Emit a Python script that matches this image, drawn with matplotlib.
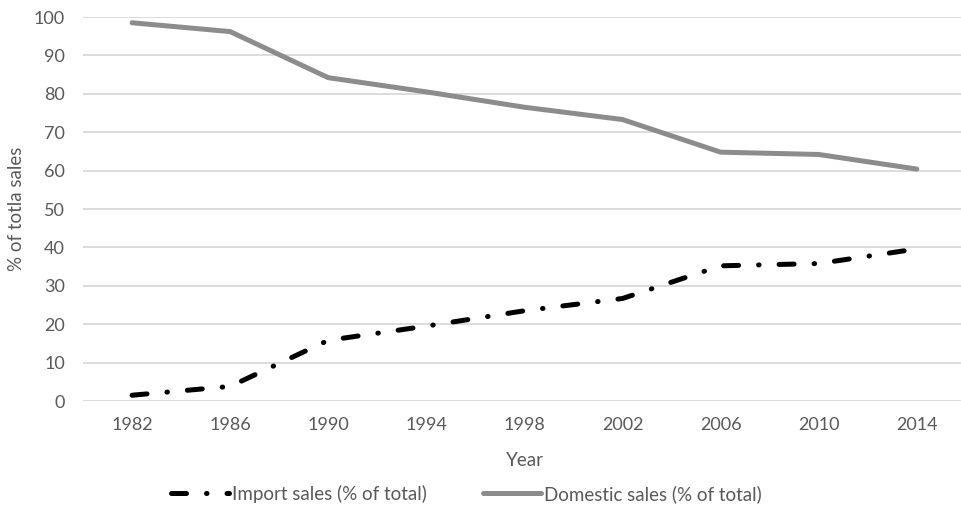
import numpy as np
import matplotlib.pyplot as plt

years = ["1982", "1986", "1990", "1994", "1998", "2002", "2006", "2010", "2014"]
import_sales = [1.5, 3.8, 15.8, 19.5, 23.5, 26.7, 35.2, 35.8, 39.6]
domestic_sales = [98.5, 96.2, 84.2, 80.5, 76.5, 73.3, 64.8, 64.2, 60.4]

plt.rcParams['font.family'] = ['Lato', 'DejaVu Sans']
txt = "#595959"

fig = plt.figure(figsize=(9.62, 5.05), dpi=100)
ax = fig.add_axes([83/962, 1-401/505, 1-83/962 + 0.004, (401-17)/505])

x = np.arange(len(years))
ax.plot(x, import_sales, color="black", lw=3.6, dash_capstyle="round",
        dashes=(3, 4, 0.1, 4), label="Import sales (% of total)")
ax.plot(x, domestic_sales, color="#8c8c8c", lw=3.6, solid_capstyle="round",
        label="Domestic sales (% of total)")

ax.set_xlim(-0.5, len(years) - 0.5)
ax.set_ylim(0, 100)
ax.set_yticks(range(0, 101, 10))
ax.set_xticks(x)
ax.set_xticklabels(years)
ax.grid(axis="y", color="#d9d9d9", lw=1.3)
ax.set_axisbelow(True)
for s in ax.spines.values():
    s.set_visible(False)
ax.tick_params(length=0, labelsize=13, colors=txt, pad=11.5)
ax.tick_params(axis="y", pad=13)
ax.set_xlabel("Year", fontsize=13.5, color=txt, labelpad=14)
ax.set_ylabel("% of totla sales", fontsize=13.5, color=txt, labelpad=6)

leg = fig.legend(loc="center", bbox_to_anchor=(0.485, 1 - 494/505), ncol=2,
                 frameon=False, fontsize=13.5, handlelength=3.1,
                 handletextpad=0.15, columnspacing=3.0, borderpad=0)
for t in leg.get_texts():
    t.set_color(txt)

fig.savefig("out.png", dpi=100)
